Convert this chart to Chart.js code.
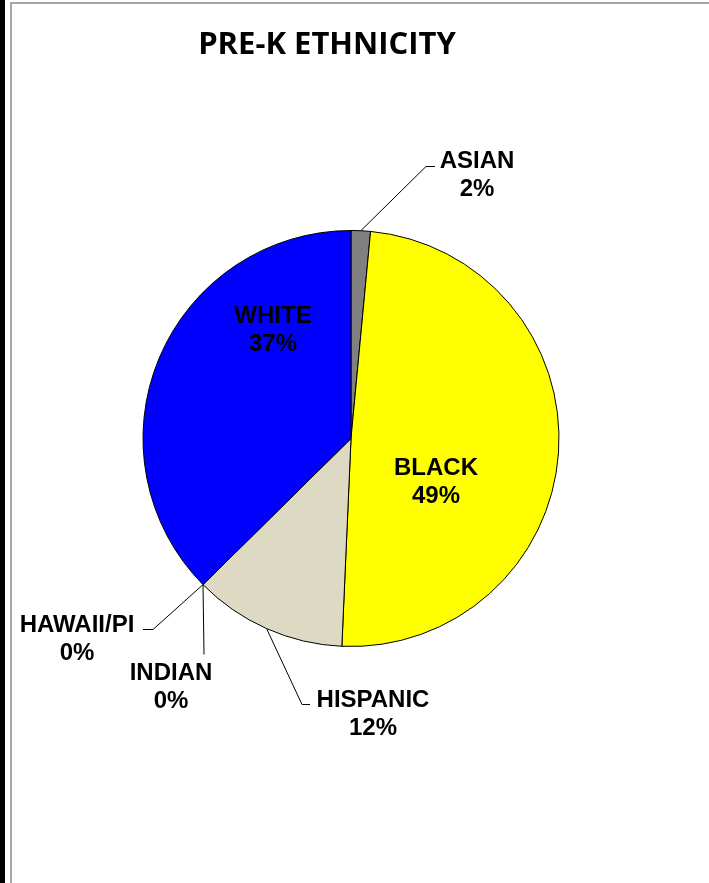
<!DOCTYPE html>
<html>
<head>
<meta charset="utf-8">
<title>Pre-K Ethnicity</title>
<script src="https://cdn.jsdelivr.net/npm/chart.js@4.4.1/dist/chart.umd.min.js"></script>
<style>
    html, body { margin: 0; padding: 0; background: #fff; }
    #wrap { position: relative; width: 709px; height: 883px; overflow: hidden; }
    #wrap .bar { position: absolute; left: 0; top: 0; width: 5px; height: 883px; background: #000; }
    #wrap .frame { position: absolute; left: 10px; top: 2px; width: 720px; height: 900px;
                   border-left: 2px solid #a6a6a6; border-top: 2px solid #a6a6a6; }
    canvas { position: absolute; left: 0; top: 0; }
</style>
</head>
<body>
<div id="wrap">
    <div class="bar"></div>
    <div class="frame"></div>
    <canvas id="ethnicityChart" width="709" height="883"></canvas>
</div>
<script>
// Chart data (percent of pre-k enrolment, clockwise from 12 o'clock)
const chartTitle = 'PRE-K ETHNICITY';
const categories = ['ASIAN', 'BLACK', 'HISPANIC', 'INDIAN', 'HAWAII/PI', 'WHITE'];
const shares = [1.5, 49.2, 11.9, 0, 0, 37.4];
const sliceColors = ['#808080', '#ffff00', '#ddd9c3', '#c0504d', '#9bbb59', '#0000ff'];

/**
 * Label placement, offsets from the pie centre (px).
 * inside labels have no leader; outside ones get a leader from the slice edge
 */
const labelPlacement = [
    { x: 126, y: -271, leader: [[75, -272], [84, -272]] },   // ASIAN
    { x: 85, y: 36 },                                        // BLACK
    { x: 22, y: 268, leader: [[-49, 266], [-41, 266]] },     // HISPANIC
    { x: -180, y: 241, leader: [[-147, 216]] },              // INDIAN
    { x: -274, y: 193, leader: [[-198, 191], [-208, 191]] }, // HAWAII/PI
    { x: -78, y: -116 }                                      // WHITE
];

const LABEL_FONT = 'bold 24px "Liberation Sans", Arial, sans-serif';
const LINE_GAP = 28;

/**
 * Draws the title, the data labels and their leader lines
 */
const pieLabels = {
    id: 'pieLabels',
    afterDatasetsDraw(chart) {
        const ctx = chart.ctx;
        const meta = chart.getDatasetMeta(0);
        const values = chart.data.datasets[0].data;
        const total = values.reduce((a, b) => a + b, 0);

        ctx.save();

        // title
        ctx.fillStyle = '#000';
        ctx.font = 'bold 31px "Open Sans", sans-serif';
        ctx.textAlign = 'center';
        ctx.textBaseline = 'alphabetic';
        ctx.fillText(chartTitle, 327, 54);

        meta.data.forEach((arc, i) => {
            const p = arc.getProps(['x', 'y', 'startAngle', 'endAngle', 'outerRadius'], true);
            const place = labelPlacement[i];

            if (place.leader) {
                const mid = (p.startAngle + p.endAngle) / 2;
                ctx.beginPath();
                ctx.strokeStyle = '#000';
                ctx.lineWidth = 1;
                ctx.moveTo(p.x + Math.cos(mid) * p.outerRadius, p.y + Math.sin(mid) * p.outerRadius);
                place.leader.forEach(pt => ctx.lineTo(p.x + pt[0], p.y + pt[1]));
                ctx.stroke();
            }

            const pct = Math.round(values[i] / total * 100) + '%';
            ctx.fillStyle = '#000';
            ctx.font = LABEL_FONT;
            ctx.textAlign = 'center';
            ctx.fillText(chart.data.labels[i], p.x + place.x, p.y + place.y);
            ctx.fillText(pct, p.x + place.x, p.y + place.y + LINE_GAP);
        });

        ctx.restore();
    }
};

document.addEventListener('DOMContentLoaded', function() {
    const ctx = document.getElementById('ethnicityChart').getContext('2d');

    new Chart(ctx, {
        type: 'pie',
        data: {
            labels: categories,
            datasets: [{
                data: shares,
                backgroundColor: sliceColors,
                borderColor: '#000',
                borderWidth: 1
            }]
        },
        options: {
            responsive: false,
            animation: false,
            layout: {
                padding: { left: 142.5, right: 149.5, top: 230, bottom: 236 }
            },
            plugins: {
                legend: { display: false },
                title: { display: false },
                tooltip: { enabled: false }
            }
        },
        plugins: [pieLabels]
    });
});
</script>
</body>
</html>
